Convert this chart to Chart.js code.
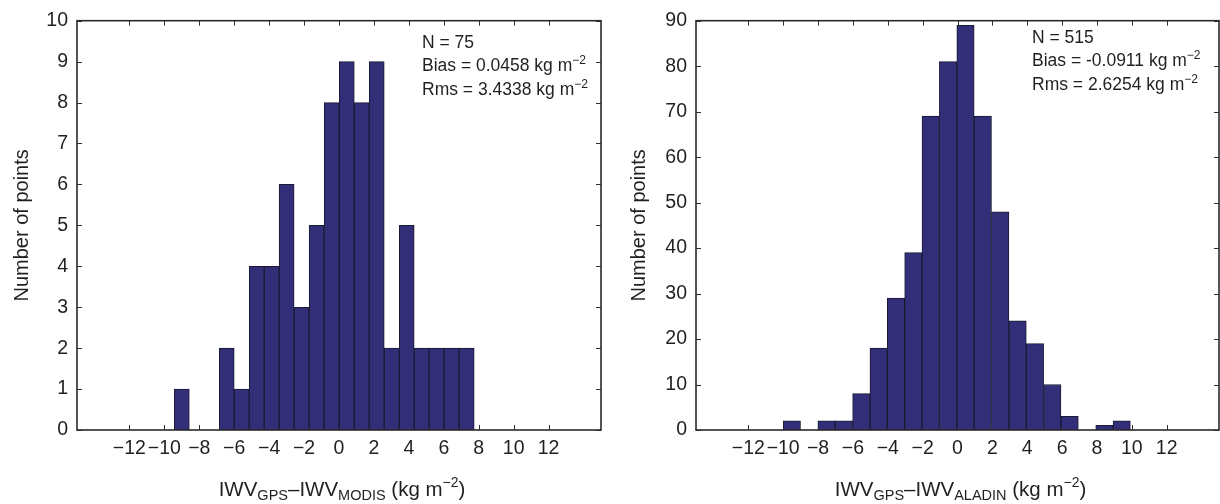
<!DOCTYPE html>
<html>
<head>
<meta charset="utf-8">
<title>IWV difference histograms</title>
<script src="https://cdn.jsdelivr.net/npm/chart.js@4.4.1/dist/chart.umd.min.js"></script>
<style>
    html, body { margin: 0; padding: 0; background: #ffffff; }
    .wrap { position: relative; width: 1220px; height: 504px; }
    .panel { position: absolute; top: 0; width: 610px; height: 504px; }
    #panelModis { left: 0; }
    #panelAladin { left: 610px; }
</style>
</head>
<body>
<div class="wrap">
    <div class="panel" id="panelModis"><canvas id="modisChart" width="610" height="504"></canvas></div>
    <div class="panel" id="panelAladin"><canvas id="aladinChart" width="610" height="504"></canvas></div>
</div>
<script>
// --- data ---
// left panel: GPS - MODIS, 20 bins
const modisBinCenters = [-9.00, -8.14, -7.28, -6.43, -5.57, -4.71, -3.85, -3.00, -2.14, -1.28,
                         -0.42, 0.45, 1.30, 2.16, 3.02, 3.88, 4.73, 5.59, 6.45, 7.31];
const modisCounts = [1, 0, 0, 2, 1, 4, 4, 6, 3, 5, 8, 9, 8, 9, 2, 5, 2, 2, 2, 2];
const modisYTicks = [0, 1, 2, 3, 4, 5, 6, 7, 8, 9, 10];
const modisStats = ['N = 75', 'Bias = 0.0458 kg m', 'Rms = 3.4338 kg m'];

// right panel: GPS - ALADIN, 20 bins
const aladinBinCenters = [-9.50, -8.51, -7.51, -6.51, -5.52, -4.52, -3.53, -2.53, -1.54, -0.54,
                          0.46, 1.45, 2.45, 3.45, 4.44, 5.44, 6.43, 7.43, 8.43, 9.42];
const aladinCounts = [2, 0, 2, 2, 8, 18, 29, 39, 69, 81, 89, 69, 48, 24, 19, 10, 3, 0, 1, 2];
const aladinYTicks = [0, 10, 20, 30, 40, 50, 60, 70, 80, 90];
const aladinStats = ['N = 515', 'Bias = -0.0911 kg m', 'Rms = 2.6254 kg m'];

// shared x axis
const xTickValues = [-12, -10, -8, -6, -4, -2, 0, 2, 4, 6, 8, 10, 12];

const TEXT = '#231f20';
const BAR = '#322f78';
const FONT = "'Liberation Sans', Arial, Helvetica, sans-serif";

const fmtTick = v => (v < 0 ? '\u2212' + Math.abs(v) : String(v));

// draw a run of text pieces (sub/superscripts) starting at x
function drawRich(ctx, parts, x, y, align) {
    let total = 0;
    parts.forEach(p => {
        ctx.font = p.size + 'px ' + FONT;
        p.w = ctx.measureText(p.t).width;
        total += p.w;
    });
    let cx = align === 'center' ? x - total / 2 : x;
    ctx.textAlign = 'left';
    ctx.textBaseline = 'alphabetic';
    parts.forEach(p => {
        ctx.font = p.size + 'px ' + FONT;
        ctx.fillText(p.t, cx, y + (p.dy || 0));
        cx += p.w;
    });
}

// frame, inward ticks, titles and stats box (MATLAB look)
const axesDecor = {
    id: 'axesDecor',
    beforeDatasetsDraw(chart, args, opts) {
        const { ctx, chartArea: a, scales } = chart;
        ctx.save();
        ctx.strokeStyle = '#2e2e2e';
        ctx.lineWidth = 1;
        ctx.beginPath();
        scales.x.ticks.forEach(t => {
            const px = Math.round(scales.x.getPixelForValue(t.value)) + 0.5;
            ctx.moveTo(px, a.bottom); ctx.lineTo(px, a.bottom - 5);
            ctx.moveTo(px, a.top); ctx.lineTo(px, a.top + 5);
        });
        scales.y.ticks.forEach(t => {
            const py = Math.round(scales.y.getPixelForValue(t.value)) + 0.5;
            ctx.moveTo(a.left, py); ctx.lineTo(a.left + 5, py);
            ctx.moveTo(a.right, py); ctx.lineTo(a.right - 5, py);
        });
        ctx.stroke();
        ctx.restore();
    },
    afterDatasetsDraw(chart, args, opts) {
        const { ctx, chartArea: a } = chart;
        ctx.save();
        ctx.strokeStyle = '#2a2a2a';
        ctx.lineWidth = 1.6;
        ctx.strokeRect(a.left, a.top, a.right - a.left, a.bottom - a.top);

        ctx.fillStyle = TEXT;
        // y title
        ctx.save();
        ctx.translate(opts.yTitleX, (a.top + a.bottom) / 2);
        ctx.rotate(-Math.PI / 2);
        ctx.font = '20px ' + FONT;
        ctx.textAlign = 'center';
        ctx.textBaseline = 'middle';
        ctx.fillText('Number of points', 0, 0);
        ctx.restore();

        // x title with subscripts
        drawRich(ctx, [
            { t: 'IWV', size: 20.5 },
            { t: 'GPS', size: 14.5, dy: 4 },
            { t: '\u2013IWV', size: 20.5 },
            { t: opts.subName, size: 14.5, dy: 4 },
            { t: ' (kg m', size: 20.5 },
            { t: '\u22122', size: 14, dy: -9 },
            { t: ')', size: 20.5 }
        ], (a.left + a.right) / 2 + 3, 496, 'center');

        // statistics
        opts.stats.forEach((s, i) => {
            const parts = [{ t: s, size: 17.5 }];
            if (i > 0) parts.push({ t: '\u22122', size: 12, dy: -7 });
            drawRich(ctx, parts, opts.statsX, opts.statsY + i * 23.3, 'left');
        });
        ctx.restore();
    }
};

function makeHist(canvasId, centers, counts, yTicks, yMax, cfg) {
    const points = centers.map((c, i) => ({ x: c, y: counts[i] }));
    return new Chart(document.getElementById(canvasId), {
        type: 'bar',
        data: {
            datasets: [{
                data: points,
                backgroundColor: BAR,
                borderColor: '#1b1a33',
                borderWidth: 1,
                barThickness: 'flex',
                barPercentage: 1,
                categoryPercentage: 1
            }]
        },
        options: {
            responsive: false,
            animation: false,
            layout: { padding: { top: 17, right: cfg.padRight, left: 0, bottom: 0 } },
            plugins: {
                legend: { display: false },
                tooltip: { enabled: false },
                axesDecor: cfg
            },
            scales: {
                x: {
                    type: 'linear',
                    min: -15,
                    max: 15,
                    offset: false,
                    afterBuildTicks: s => { s.ticks = xTickValues.map(v => ({ value: v })); },
                    afterFit: s => { s.height = 74; },
                    grid: { display: false, drawTicks: false },
                    border: { display: false },
                    ticks: {
                        padding: 7,
                        maxRotation: 0,
                        autoSkip: false,
                        color: TEXT,
                        font: { family: FONT, size: 19.5 },
                        callback: v => fmtTick(v)
                    }
                },
                y: {
                    min: 0,
                    max: yMax,
                    afterBuildTicks: s => { s.ticks = yTicks.map(v => ({ value: v })); },
                    afterFit: s => { s.width = cfg.yAxisWidth; },
                    grid: { display: false, drawTicks: false },
                    border: { display: false },
                    ticks: {
                        padding: 9,
                        color: TEXT,
                        font: { family: FONT, size: 19.5 },
                        callback: v => fmtTick(v)
                    }
                }
            }
        },
        plugins: [axesDecor]
    });
}

const initApp = () => {
    makeHist('modisChart', modisBinCenters, modisCounts, modisYTicks, 10, {
        padRight: 9, yAxisWidth: 77, yTitleX: 22, subName: 'MODIS',
        stats: modisStats, statsX: 422, statsY: 48
    });
    makeHist('aladinChart', aladinBinCenters, aladinCounts, aladinYTicks, 90, {
        padRight: 1, yAxisWidth: 86, yTitleX: 29, subName: 'ALADIN',
        stats: aladinStats, statsX: 422, statsY: 43
    });
};

if (document.readyState === 'loading') {
    document.addEventListener('DOMContentLoaded', initApp);
} else {
    initApp();
}
</script>
</body>
</html>
